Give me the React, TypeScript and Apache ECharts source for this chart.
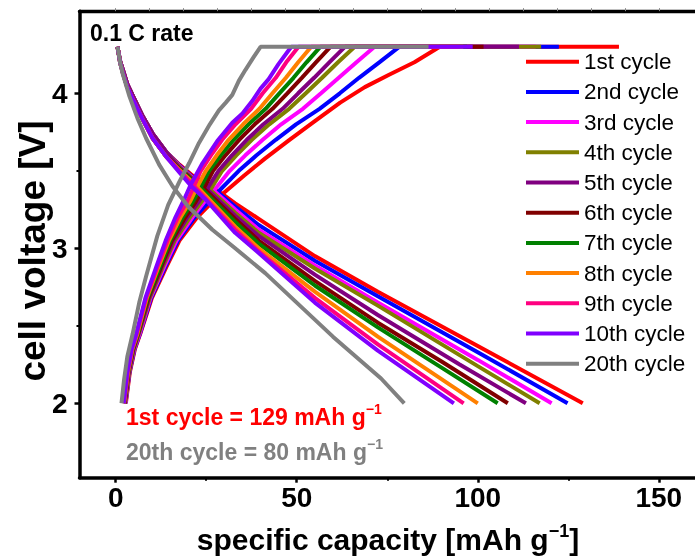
import React, { useEffect, useRef } from "react";
import * as echarts from "echarts";

const FONT = '"Liberation Sans", Arial, sans-serif';

const cycleNames = ["1st cycle", "2nd cycle", "3rd cycle", "4th cycle", "5th cycle", "6th cycle", "7th cycle", "8th cycle", "9th cycle", "10th cycle", "20th cycle"];
const cycleColors = ["#FF0000", "#0000FF", "#FF00FF", "#808000", "#800080", "#800000", "#008000", "#FF8000", "#FF0080", "#8000FF", "#808080"];

// charge curves [capacity mAh/g, voltage V]
const charge1 = [[2.8,2.0],[3.9,2.2],[5.3,2.35],[6.8,2.45],[10,2.68],[14,2.88],[17.6,3.05],[22.5,3.2],[26.3,3.29],[29.5,3.35],[35.5,3.47],[41.3,3.58],[48,3.7],[55,3.82],[62,3.94],[68.8,4.04],[75.5,4.12],[82.5,4.2],[89.5,4.3],[139,4.3]];
const charge2 = [[2.7,2.0],[3.8,2.2],[5.2,2.35],[6.7,2.45],[9.8,2.68],[13.7,2.88],[17.2,3.05],[21.8,3.2],[25.3,3.29],[28.3,3.365],[34,3.5],[38.9,3.6],[44.2,3.7],[49.8,3.8],[56.3,3.9],[61.9,4.0],[67.2,4.1],[72.8,4.2],[78.3,4.3],[122.4,4.3]];
const charge3 = [[2.7,2.0],[3.7,2.2],[5.1,2.35],[6.6,2.45],[9.6,2.68],[13.4,2.88],[16.8,3.05],[21.2,3.2],[24.5,3.3],[27.2,3.375],[31.5,3.5],[35.8,3.6],[40.6,3.7],[45.7,3.8],[51.7,3.9],[56.7,4.0],[61.6,4.1],[66.5,4.2],[71.5,4.3],[116,4.3]];
const charge4 = [[2.6,2.0],[3.7,2.2],[5.0,2.35],[6.4,2.45],[9.4,2.68],[13.0,2.88],[16.3,3.05],[20.5,3.2],[23.7,3.3],[26.2,3.38],[29.4,3.5],[33.3,3.6],[37.6,3.7],[42.4,3.8],[47.9,3.9],[52.5,4.0],[57.0,4.1],[61.4,4.2],[66.0,4.3],[117.5,4.3]];
const charge5 = [[2.5,2.0],[3.6,2.2],[4.9,2.35],[6.3,2.45],[9.2,2.68],[12.7,2.88],[15.9,3.05],[19.8,3.2],[22.9,3.3],[25.3,3.385],[28.4,3.5],[32.1,3.6],[36.2,3.7],[40.8,3.8],[46.1,3.9],[50.4,4.0],[54.8,4.1],[59.0,4.2],[63.3,4.3],[111.4,4.3]];
const charge6 = [[2.5,2.0],[3.5,2.2],[4.8,2.35],[6.2,2.45],[9.0,2.68],[12.5,2.88],[15.5,3.05],[19.2,3.2],[22.1,3.3],[24.4,3.39],[26.9,3.5],[30.3,3.6],[34.1,3.7],[38.4,3.8],[43.3,3.9],[47.4,4.0],[51.4,4.1],[55.3,4.2],[59.3,4.3],[101.6,4.3]];
const charge7 = [[2.4,2.0],[3.4,2.2],[4.7,2.35],[6.1,2.45],[8.8,2.68],[12.2,2.88],[15.1,3.05],[18.5,3.2],[21.3,3.3],[23.5,3.395],[25.8,3.5],[29.0,3.6],[32.6,3.7],[36.7,3.8],[41.4,3.9],[45.2,4.0],[49.1,4.1],[52.7,4.2],[56.5,4.3],[97,4.3]];
const charge8 = [[2.3,2.0],[3.4,2.2],[4.6,2.35],[6.0,2.45],[8.6,2.68],[11.8,2.88],[14.7,3.05],[17.9,3.2],[20.5,3.3],[22.6,3.4],[24.9,3.5],[27.9,3.6],[31.2,3.7],[35.2,3.8],[39.7,3.9],[43.3,4.0],[47.0,4.1],[50.4,4.2],[54.0,4.3],[96,4.3]];
const charge9 = [[2.3,2.0],[3.3,2.2],[4.5,2.35],[5.8,2.45],[8.4,2.68],[11.5,2.88],[14.3,3.05],[17.2,3.2],[19.7,3.3],[21.7,3.405],[23.5,3.5],[26.3,3.6],[29.4,3.7],[33.1,3.8],[37.4,3.9],[40.6,4.0],[44.2,4.1],[47.1,4.2],[50.5,4.3],[95,4.3]];
const charge10 = [[2.2,2.0],[3.2,2.2],[4.4,2.35],[5.7,2.45],[8.2,2.68],[11.2,2.88],[13.8,3.05],[16.5,3.2],[18.8,3.31],[20.7,3.41],[24,3.55],[28,3.69],[32.2,3.81],[35,3.87],[37.7,3.95],[40,4.03],[42.2,4.09],[45,4.19],[48.5,4.3],[98.6,4.3]];
const charge20 = [[1.6,2.0],[2.3,2.15],[3.2,2.3],[4.7,2.45],[6.5,2.65],[8.4,2.82],[11.5,3.08],[14.5,3.28],[17.6,3.43],[20.3,3.55],[23,3.68],[26,3.8],[28.5,3.89],[30.4,3.94],[32.2,3.99],[34,4.08],[35.8,4.15],[38,4.23],[40,4.3],[86.4,4.3]];

// discharge curves [capacity mAh/g, voltage V]
const discharge1 = [[0.5,4.3],[1.2,4.21],[2,4.15],[3.2,4.06],[4.8,3.98],[7.5,3.85],[10.2,3.74],[14,3.62],[17.6,3.54],[21.2,3.47],[25,3.41],[29.5,3.35],[33,3.29],[39.5,3.19],[55,2.95],[72.4,2.72],[100,2.37],[129,2.0]];
const discharge2 = [[0.5,4.3],[1.2,4.21],[2,4.15],[3.2,4.06],[4.8,3.98],[7.5,3.85],[10.2,3.74],[14,3.62],[17.6,3.535],[21.2,3.46],[25,3.405],[28.3,3.36],[33,3.27],[39.5,3.15],[55,2.92],[72.4,2.69],[100,2.33],[124.8,2.0]];
const discharge3 = [[0.5,4.3],[1.2,4.21],[2,4.15],[3.2,4.06],[4.8,3.98],[7.5,3.85],[10.2,3.74],[14,3.62],[17.6,3.53],[21.2,3.455],[25,3.4],[27.2,3.37],[33,3.25],[39.5,3.12],[55,2.89],[72.4,2.65],[100,2.28],[120.4,2.0]];
const discharge4 = [[0.5,4.3],[1.2,4.21],[2,4.15],[3.2,4.06],[4.8,3.98],[7.5,3.85],[10.2,3.74],[14,3.62],[17.6,3.525],[21.2,3.45],[26.2,3.375],[33,3.23],[39.5,3.1],[55,2.87],[72.4,2.63],[100,2.24],[117.1,2.0]];
const discharge5 = [[0.5,4.3],[1.2,4.21],[2,4.15],[3.2,4.06],[4.8,3.98],[7.5,3.85],[10.2,3.74],[14,3.62],[17.6,3.52],[21.2,3.445],[25.3,3.38],[33,3.21],[39.5,3.08],[55,2.83],[72.4,2.57],[95,2.25],[113.3,2.0]];
const discharge6 = [[0.5,4.3],[1.2,4.2],[2,4.13],[3.2,4.04],[4.8,3.96],[7.5,3.83],[10.2,3.71],[14,3.59],[17.6,3.515],[21.2,3.44],[24.4,3.385],[33,3.19],[39.5,3.05],[55,2.79],[72.4,2.52],[90,2.27],[108.3,2.0]];
const discharge7 = [[0.5,4.3],[1.2,4.2],[2,4.13],[3.2,4.04],[4.8,3.96],[7.5,3.83],[10.2,3.71],[14,3.59],[17.6,3.51],[21.2,3.435],[23.5,3.39],[33,3.17],[39.5,3.03],[55,2.76],[72.4,2.49],[90,2.23],[105.5,2.0]];
const discharge8 = [[0.5,4.3],[1.2,4.2],[2,4.13],[3.2,4.04],[4.8,3.96],[7.5,3.83],[10.2,3.71],[14,3.59],[17.6,3.505],[22.6,3.395],[33,3.14],[39.5,3.0],[55,2.72],[72.4,2.43],[100,2.0]];
const discharge9 = [[0.5,4.3],[1.2,4.2],[2,4.13],[3.2,4.04],[4.8,3.96],[7.5,3.83],[10.2,3.71],[14,3.59],[17.6,3.5],[21.7,3.4],[33,3.12],[39.5,2.98],[55,2.68],[72.4,2.38],[96.1,2.0]];
const discharge10 = [[0.5,4.3],[1.2,4.2],[2,4.13],[3.2,4.04],[4.8,3.96],[7.5,3.83],[10.2,3.71],[14,3.59],[17.6,3.49],[20.7,3.405],[25,3.31],[33,3.1],[39.5,2.97],[55,2.65],[72.4,2.34],[93.4,2.0]];
const discharge20 = [[0.5,4.3],[1.2,4.2],[2,4.12],[3.8,3.98],[6,3.84],[8.4,3.71],[12,3.54],[15.7,3.4],[20,3.27],[26.7,3.12],[33,3.0],[41.3,2.84],[60,2.43],[73.3,2.16],[79.7,2.0]];

const chargeCurves = [charge1, charge2, charge3, charge4, charge5, charge6, charge7, charge8, charge9, charge10, charge20];
const dischargeCurves = [discharge1, discharge2, discharge3, discharge4, discharge5, discharge6, discharge7, discharge8, discharge9, discharge10, discharge20];

const xTickLabels = [0, 50, 100, 150];
const xMinorTicks = [25, 75, 125];
const yTickLabels = [2, 3, 4];
const yMinorTicks = [2.5, 3.5];
const topTicks = [0, 9.375, 18.75, 28.125, 37.5, 46.875, 56.25, 65.625, 75, 84.375, 93.75, 103.125, 112.5, 121.875, 131.25, 140.625, 150];

export default function App() {
  const ref = useRef<HTMLDivElement>(null);
  useEffect(() => {
    if (!ref.current) return;
    const chart = echarts.init(ref.current, null, { renderer: "svg" });
    const series: any[] = [];
    cycleNames.forEach((name, i) => {
      [chargeCurves[i], dischargeCurves[i]].forEach((d) => {
        series.push({
          type: "line",
          name,
          data: d,
          xAxisIndex: 0,
          yAxisIndex: 0,
          showSymbol: false,
          symbol: "none",
          color: cycleColors[i],
          lineStyle: { color: cycleColors[i], width: 4 },
          silent: true,
          animation: false,
        });
      });
    });
    const annot = (text: string, color: string) => ({
      text: `{m|${text}}{sup|−1}`,
      fill: color,
      textVerticalAlign: "middle",
      rich: {
        m: { fontSize: 23, fontWeight: "bold", fontFamily: FONT, fill: color, verticalAlign: "bottom", lineHeight: 26 },
        sup: { fontSize: 14, fontWeight: "bold", fontFamily: FONT, fill: color, verticalAlign: "top", lineHeight: 26 },
      },
    });
    const option: any = {
      animation: false,
      grid: { left: 79.5, right: -4.3, top: 11.15, bottom: 80.3, containLabel: false },
      xAxis: [
        {
          type: "value", min: -10, max: 160, position: "bottom",
          axisLine: { show: true, onZero: false, lineStyle: { color: "#000", width: 3.5 } },
          axisTick: { show: true, customValues: xTickLabels, length: 5, inside: false, lineStyle: { color: "#000", width: 2.5 } },
          axisLabel: { show: true, customValues: xTickLabels, fontSize: 28, fontWeight: "bold", fontFamily: FONT, color: "#000", margin: 6 },
          splitLine: { show: false },
        },
        {
          type: "value", min: -10, max: 160, position: "bottom",
          axisLine: { show: false, onZero: false },
          axisTick: { show: true, customValues: xMinorTicks, length: 3, lineStyle: { color: "#000", width: 2 } },
          axisLabel: { show: false },
          splitLine: { show: false },
        },
        {
          type: "value", min: -10, max: 160, position: "top",
          axisLine: { show: true, onZero: false, lineStyle: { color: "#000", width: 3.3 } },
          axisTick: { show: true, customValues: topTicks, length: 3, lineStyle: { color: "#888", width: 1 } },
          axisLabel: { show: false },
          splitLine: { show: false },
        },
      ],
      yAxis: [
        {
          type: "value", min: 1.52, max: 4.53, position: "left",
          axisLine: { show: true, onZero: false, lineStyle: { color: "#000", width: 3.5 } },
          axisTick: { show: true, customValues: yTickLabels, length: 5, lineStyle: { color: "#000", width: 2.5 } },
          axisLabel: { show: true, customValues: yTickLabels, fontSize: 28, fontWeight: "bold", fontFamily: FONT, color: "#000", margin: 12 },
          splitLine: { show: false },
        },
        {
          type: "value", min: 1.52, max: 4.53, position: "left",
          axisLine: { show: false, onZero: false },
          axisTick: { show: true, customValues: yMinorTicks, length: 3, lineStyle: { color: "#000", width: 2 } },
          axisLabel: { show: false },
          splitLine: { show: false },
        },
      ],
      legend: {
        data: cycleNames,
        orient: "vertical",
        left: 526,
        top: 49.7,
        itemWidth: 53,
        itemHeight: 4,
        itemGap: 6.2,
        icon: "rect",
        padding: 0,
        selectedMode: false,
        textStyle: { fontSize: 22.5, fontFamily: FONT, color: "#000", lineHeight: 24 },
      },
      graphic: [
        { type: "text", x: 90, y: 33, style: { text: "0.1 C rate", font: `bold 23px ${FONT}`, fill: "#000", textVerticalAlign: "middle" } },
        { type: "text", x: 126, y: 415, style: annot("1st cycle = 129 mAh g", "#FF0000") },
        { type: "text", x: 126, y: 450, style: annot("20th cycle = 80 mAh g", "#808080") },
        {
          type: "text", x: 388, y: 538,
          style: {
            text: "{m|specific capacity [mAh g}{sup|−1}{m|]}", fill: "#000", textAlign: "center", textVerticalAlign: "middle",
            rich: {
              m: { fontSize: 30, fontWeight: "bold", fontFamily: FONT, fill: "#000", verticalAlign: "bottom", lineHeight: 33 },
              sup: { fontSize: 18, fontWeight: "bold", fontFamily: FONT, fill: "#000", verticalAlign: "top", lineHeight: 33 },
            },
          },
        },
        {
          type: "text", x: 32, y: 251, rotation: Math.PI / 2,
          style: { text: "cell voltage [V]", font: `bold 37px ${FONT}`, fill: "#000", textAlign: "center", textVerticalAlign: "middle" },
        },
      ],
      series,
    };
    chart.setOption(option);
    return () => chart.dispose();
  }, []);
  return <div ref={ref} style={{ width: 695, height: 558, position: "fixed", left: 0, top: 0 }} />;
}
